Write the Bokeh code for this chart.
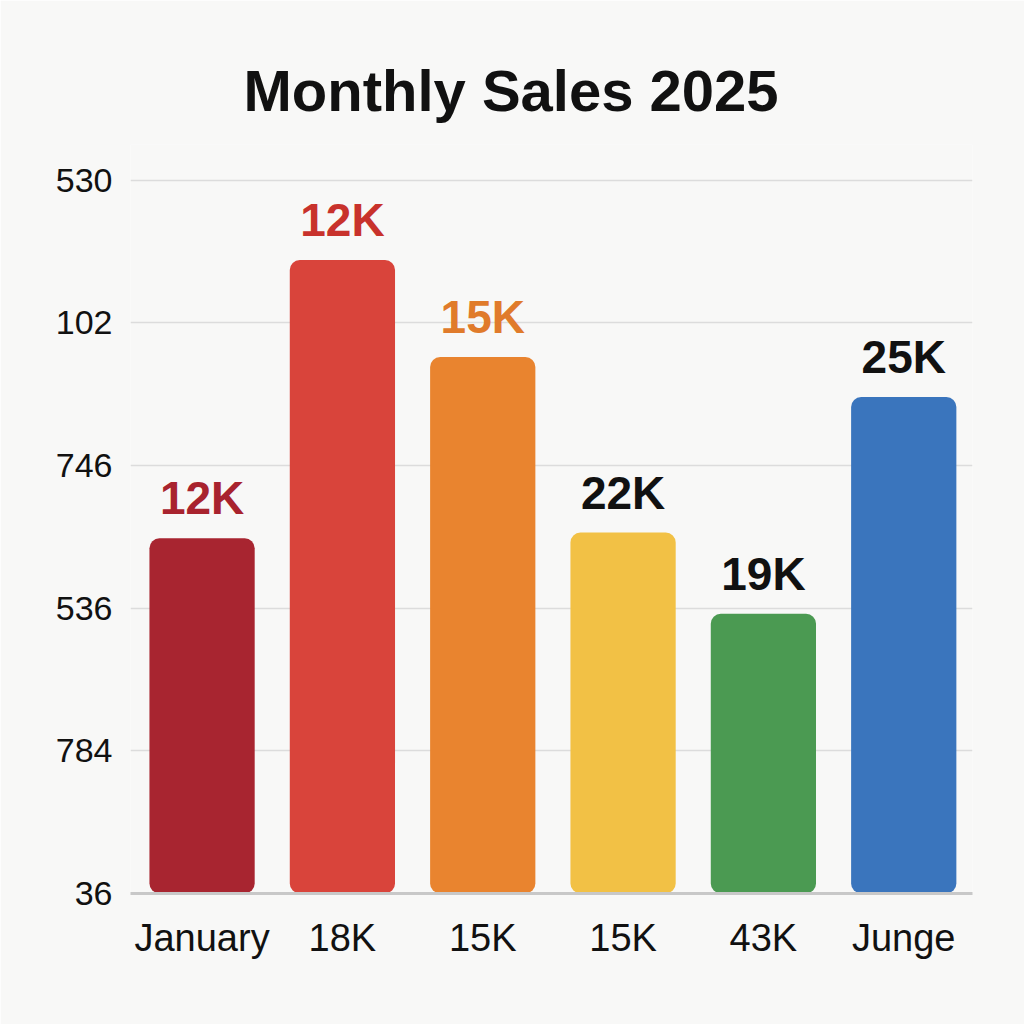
from bokeh.plotting import figure
from bokeh.models import ColumnDataSource, Range1d, FixedTicker
from bokeh.core.properties import value
from bokeh.embed import file_html
from bokeh.resources import INLINE

# ---- data ----
x_labels = ["January", "18K", "15K", "15K", "43K", "Junge"]
bar_values = [2.49, 4.44, 3.76, 2.53, 1.96, 3.48]
value_labels = ["12K", "12K", "15K", "22K", "19K", "25K"]
bar_colors = ["#a82530", "#d9443b", "#e9842f", "#f2c145", "#4b9a52", "#3a75bd"]
label_colors = ["#a8232e", "#c8322c", "#e07b2b", "#111111", "#111111", "#111111"]
y_tick_labels = ["36", "784", "536", "746", "102", "530"]

xs = list(range(len(x_labels)))
src = ColumnDataSource(dict(x=xs, top=bar_values, color=bar_colors,
                            label=value_labels, lcolor=label_colors))

bg = "#f8f8f7"
p = figure(width=1024, height=1024, output_backend="svg", toolbar_location=None,
           x_range=Range1d(-0.51, 5.49), y_range=Range1d(0, 5.25),
           min_border_left=130, min_border_right=52, min_border_top=144,
           min_border_bottom=131)
p.background_fill_color = bg
p.border_fill_color = bg
p.outline_line_color = None

p.title.text = "Monthly Sales 2025"
p.title.align = "left"
p.title.offset = 113
p.title.standoff = 44
p.title.text_font = "Liberation Sans"
p.title.text_font_style = "bold"
p.title.text_font_size = "58px"
p.title.text_color = "#111111"

p.vbar(x="x", top="top", bottom=0, width=0.75, fill_color="color",
       line_color=None, border_radius=10, source=src)

p.text(x="x", y="top", text="label", text_color="lcolor", source=src,
       text_align="center", text_baseline="bottom", y_offset=-14,
       text_font=value("Liberation Sans"), text_font_style="bold",
       text_font_size="46px")

# axes
p.xaxis.ticker = FixedTicker(ticks=xs)
p.xaxis.major_label_overrides = {i: t for i, t in enumerate(x_labels)}
p.xaxis.axis_line_color = "#c8c8c8"
p.xaxis.axis_line_width = 3
p.xaxis.major_tick_line_color = None
p.xaxis.minor_tick_line_color = None
p.xaxis.major_label_text_font = "Liberation Sans"
p.xaxis.major_label_text_font_size = "38px"
p.xaxis.major_label_text_color = "#111111"
p.xaxis.major_label_standoff = 17

yt = list(range(len(y_tick_labels)))
p.yaxis.ticker = FixedTicker(ticks=yt)
p.yaxis.major_label_overrides = {i: t for i, t in enumerate(y_tick_labels)}
p.yaxis.axis_line_color = None
p.yaxis.major_tick_line_color = None
p.yaxis.minor_tick_line_color = None
p.yaxis.major_label_text_font = "Liberation Sans"
p.yaxis.major_label_text_font_size = "34px"
p.yaxis.major_label_text_color = "#111111"
p.yaxis.major_label_standoff = 12

p.xgrid.grid_line_color = None
p.ygrid.ticker = FixedTicker(ticks=yt[1:])
p.ygrid.grid_line_color = "#dcdcdc"
p.ygrid.grid_line_width = 1.5

open("out.html", "w").write(file_html(p, INLINE))
